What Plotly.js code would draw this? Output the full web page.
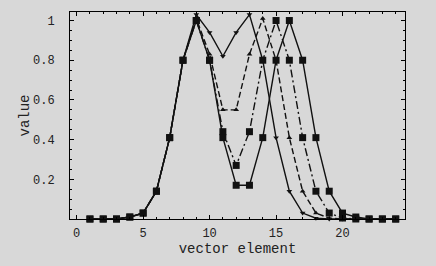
<!DOCTYPE html>
<html><head><meta charset="utf-8">
<script src="https://cdn.plot.ly/plotly-3.0.1.min.js"></script>
<style>html,body{margin:0;padding:0;background:#d8d8d8;}</style>
</head><body><div id="c" style="width:436px;height:266px;"></div>
<script>
var xs = [1,2,3,4,5,6,7,8,9,10,11,12,13,14,15,16,17,18,19,20,21,22,23,24];
// peaks at 9 and 16
var sA = [0,0,0,0.01,0.03,0.14,0.41,0.8,1.0,0.8,0.41,0.17,0.17,0.41,0.8,1.0,0.8,0.41,0.14,0.03,0.01,0,0,0];
// peaks at 9 and 15
var sB = [0,0,0,0.01,0.03,0.14,0.41,0.8,1.0,0.8,0.44,0.27,0.44,0.8,1.0,0.8,0.41,0.14,0.03,0.005,0,0,0,0];
// peaks at 9 and 14
var sC = [0,0,0,0.01,0.03,0.14,0.41,0.8,1.01,0.83,0.55,0.55,0.83,1.01,0.8,0.41,0.14,0.03,0.004,0,0,0,0,0];
// peaks at 9 and 13
var sD = [0,0,0,0.01,0.03,0.14,0.41,0.8,1.03,0.94,0.82,0.94,1.03,0.8,0.41,0.14,0.03,0.004,0,0,0,0,0,0];
var xTicks = [0,5,10,15,20];
var yTicks = [0.2,0.4,0.6,0.8,1];
var yTickText = ['0.2','0.4','0.6','0.8','1'];

var lc = '#111111';
var traces = [
 {x:xs,y:sD,mode:'lines+markers',line:{color:lc,width:1.4,dash:'solid'},marker:{symbol:'triangle-down',size:5,color:lc}},
 {x:xs,y:sC,mode:'lines+markers',line:{color:lc,width:1.4,dash:'6px,3px'},marker:{symbol:'triangle-up',size:5,color:lc}},
 {x:xs,y:sB,mode:'lines+markers',line:{color:lc,width:1.4,dash:'8px,3px,2px,3px'},marker:{symbol:'square',size:7,color:lc}},
 {x:xs,y:sA,mode:'lines+markers',line:{color:lc,width:1.4,dash:'solid'},marker:{symbol:'square',size:7,color:lc}}
];
traces.forEach(function(t){t.cliponaxis=false;t.showlegend=false;});
var font = {family:'Liberation Mono, DejaVu Sans Mono, monospace', size:12, color:'#222'};
var layout = {
  width:436,height:266,
  paper_bgcolor:'#d8d8d8',plot_bgcolor:'#d8d8d8',
  margin:{l:70,r:31,t:12,b:47},
  font:font,
  xaxis:{range:[-0.5,24.7],tickvals:xTicks,ticktext:xTicks.map(String),ticks:'inside',ticklen:4,tickcolor:'#000',
    showline:true,linecolor:'#000',linewidth:1,mirror:'allticks',showgrid:false,zeroline:false,
    minor:{dtick:1,ticks:'inside',ticklen:2,tickcolor:'#000'},
    ticklabelstandoff:3,
    title:{text:'vector element',font:{family:'Liberation Mono, monospace',size:14,color:'#222'},standoff:0}},
  yaxis:{range:[0,1.043],tickvals:yTicks,ticktext:yTickText,ticks:'inside',ticklen:4,tickcolor:'#000',
    showline:true,linecolor:'#000',linewidth:1,mirror:'allticks',showgrid:false,zeroline:false,
    minor:{dtick:0.05,ticks:'inside',ticklen:2,tickcolor:'#000'},
    ticklabelstandoff:12,
    title:{text:'value',font:{family:'Liberation Mono, monospace',size:14,color:'#222'},standoff:0}}
};
Plotly.newPlot('c',traces,layout,{displayModeBar:false,staticPlot:true});
</script></body></html>
